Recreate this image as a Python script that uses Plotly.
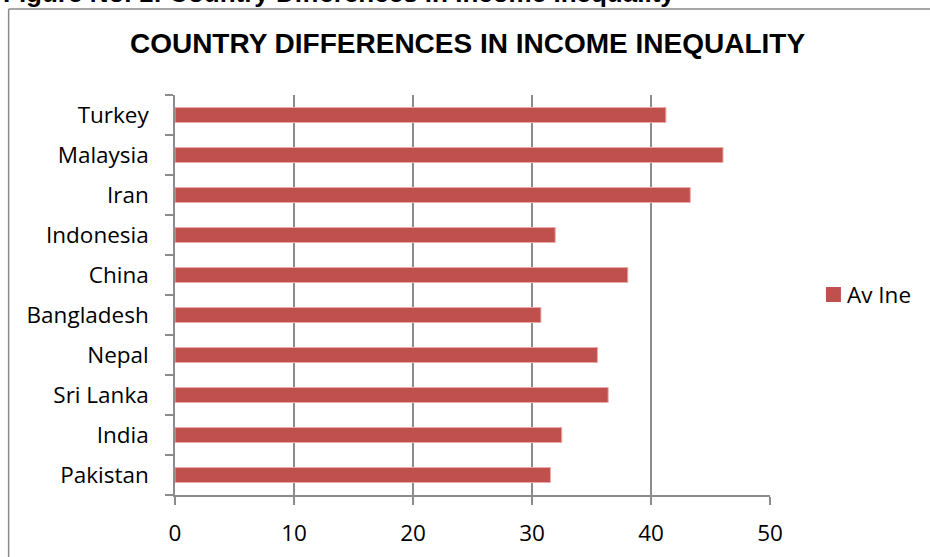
import plotly.graph_objects as go

# Average income inequality by country (bottom to top as drawn)
countries = ["Pakistan", "India", "Sri Lanka", "Nepal", "Bangladesh",
             "China", "Indonesia", "Iran", "Malaysia", "Turkey"]
av_ine = [31.55, 32.5, 36.4, 35.5, 30.75, 38.05, 31.95, 43.3, 46.05, 41.25]
series_name = "Av Ine"
x_ticks = [0, 10, 20, 30, 40, 50]

W, H = 930, 557
L, R, T, B = 174.5, 160, 95, 62
pw, ph = W - L - R, H - T - B


def px_x(p):
    return (p - L) / pw


def px_y(p):
    return (H - B - p) / ph


BAR = "#C0504D"
GRID = "#8C8C8C"
LABEL_FONT = dict(family="Open Sans", size=22.5, color="#000000")

fig = go.Figure()
fig.add_trace(go.Bar(
    y=countries, x=av_ine, orientation="h", name=series_name,
    width=0.375,
    marker=dict(color=BAR, line=dict(color="#EBA9A7", width=1)),
    showlegend=False,
))

fig.update_layout(
    width=W, height=H,
    margin=dict(l=L, r=R, t=T, b=B, autoexpand=False),
    paper_bgcolor="white", plot_bgcolor="white",
    title=dict(
        text="<b>COUNTRY DIFFERENCES IN INCOME INEQUALITY</b>",
        font=dict(family="Liberation Sans", size=28, color="#000000"),
        x=467.5 / W, xanchor="center", y=1 - 43.5 / H, yanchor="middle",
        xref="container", yref="container",
    ),
    xaxis=dict(
        range=[0, 50], tickvals=x_ticks, ticktext=[str(v) for v in x_ticks],
        showgrid=True, gridcolor=GRID, gridwidth=1.5,
        showline=True, linecolor=GRID, linewidth=1.5,
        ticks="outside", ticklen=8, tickcolor=GRID, tickwidth=1.5,
        tickfont=LABEL_FONT, ticklabelstandoff=9, zeroline=False,
        fixedrange=True,
    ),
    yaxis=dict(
        type="category", categoryorder="array", categoryarray=countries,
        range=[-0.5, len(countries) - 0.5],
        showgrid=False, showline=True, linecolor=GRID, linewidth=1.5,
        ticks="outside", tickson="boundaries", ticklen=8,
        tickcolor=GRID, tickwidth=1.5,
        tickfont=LABEL_FONT, ticklabelstandoff=20, fixedrange=True,
    ),
    bargap=0.625,
)

# Chart frame (top and left edges)
fig.add_shape(type="line", xref="paper", yref="paper",
              x0=px_x(8), x1=px_x(940), y0=px_y(9), y1=px_y(9),
              line=dict(color="#8A8A8A", width=1.5))
fig.add_shape(type="line", xref="paper", yref="paper",
              x0=px_x(8), x1=px_x(8), y0=px_y(9), y1=px_y(570),
              line=dict(color="#8A8A8A", width=1.5))

# Figure caption above the frame
fig.add_annotation(
    text="<b>Figure No. 1: Country Differences in Income Inequality</b>",
    xref="paper", yref="paper", x=px_x(0), y=px_y(10),
    xanchor="left", yanchor="bottom", showarrow=False,
    font=dict(family="Liberation Sans", size=26, color="#000000"),
)

# Legend key
fig.add_shape(type="rect", xref="paper", yref="paper",
              x0=px_x(826), x1=px_x(841), y0=px_y(302), y1=px_y(287),
              fillcolor=BAR, line=dict(width=0))
fig.add_annotation(
    text=series_name, xref="paper", yref="paper",
    x=px_x(845), y=px_y(294.5), xanchor="left", yanchor="middle",
    showarrow=False, font=LABEL_FONT,
)

fig.write_html("out.html")
